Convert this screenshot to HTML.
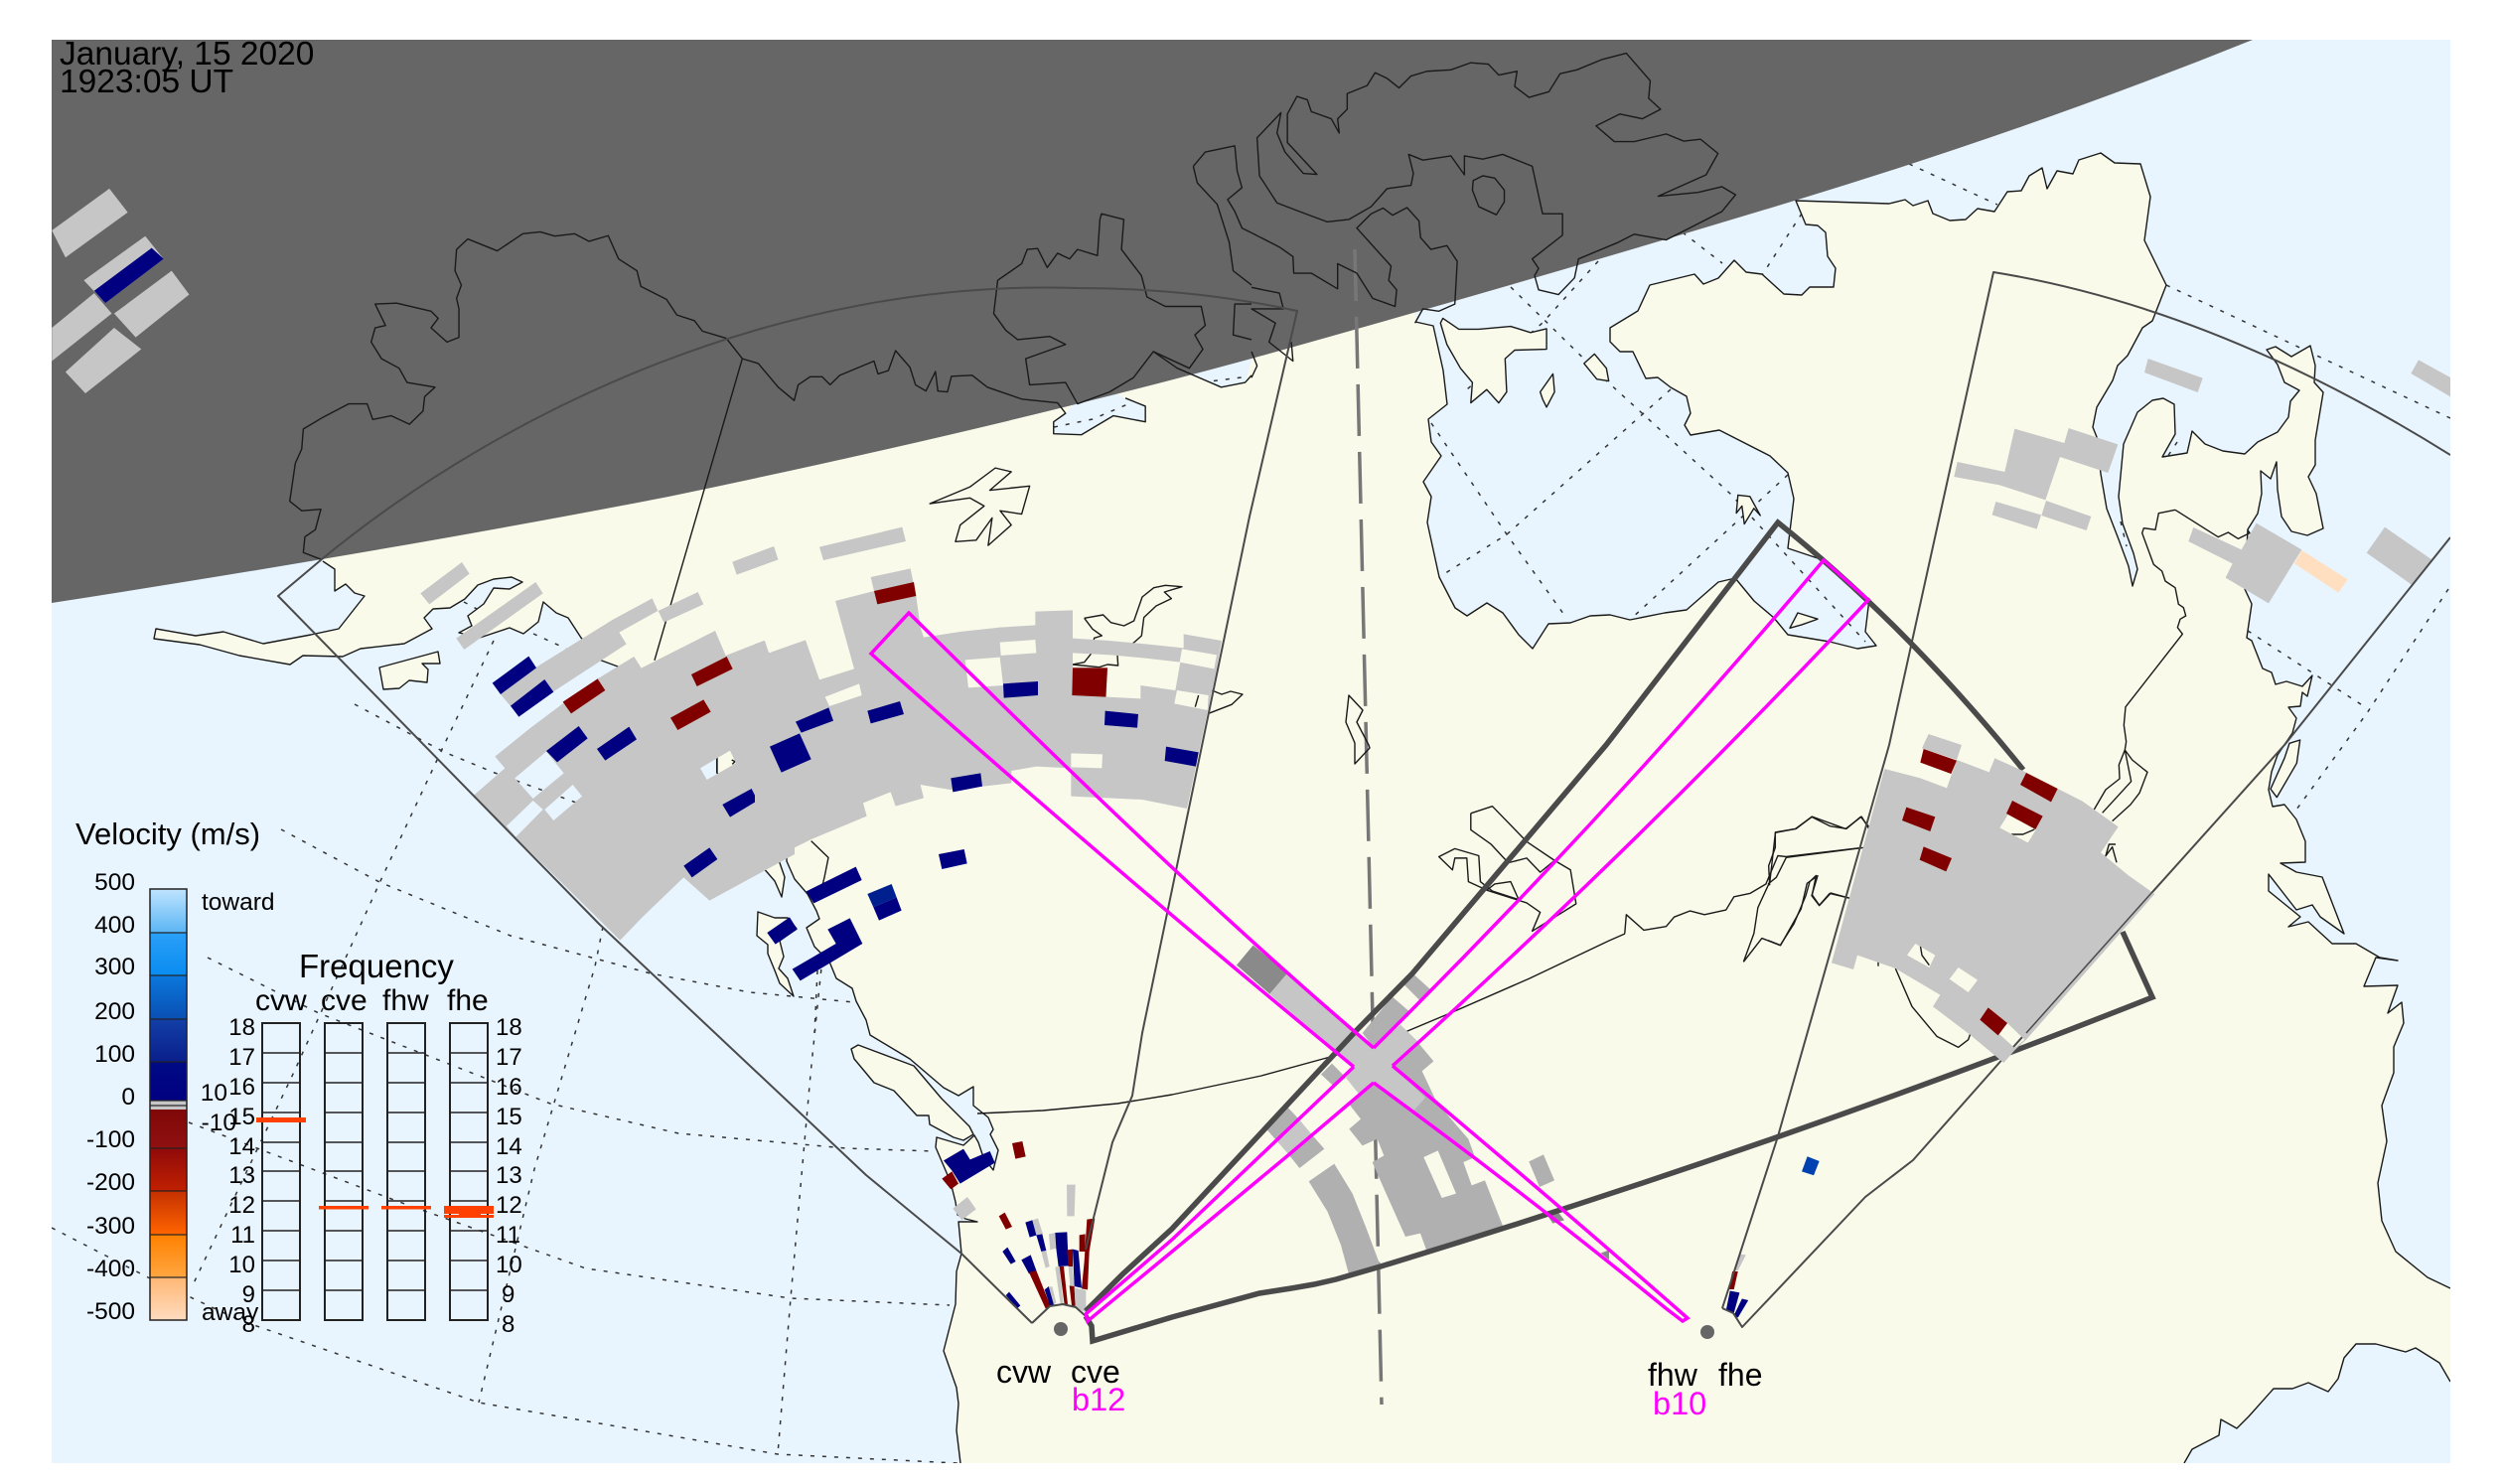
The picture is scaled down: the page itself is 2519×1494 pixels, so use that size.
<!DOCTYPE html>
<html><head><meta charset="utf-8"><title>SuperDARN</title>
<style>
html,body{margin:0;padding:0;background:#fff}
svg{display:block}
text{font-family:"Liberation Sans",sans-serif;fill:#000}
.c{fill:none;stroke:#1a1a1a;stroke-width:1.4;stroke-linejoin:round;vector-effect:non-scaling-stroke}
.i{fill:#f9faea;stroke:#1a1a1a;stroke-width:1.4;stroke-linejoin:round;vector-effect:non-scaling-stroke}
.g{fill:#c6c6c6}.d{fill:#b0b0b0}.r{fill:#800000}.n{fill:#000080}
.dot{fill:none;stroke:#333;stroke-width:1.5;stroke-dasharray:4 8}
.s{fill:none;stroke:#4a4a4a;stroke-width:2;stroke-linejoin:round}
.t{fill:none;stroke:#4a4a4a;stroke-width:5.5;stroke-linejoin:miter}
.m{fill:none;stroke:#ff00ff;stroke-width:3.5;stroke-linejoin:miter}
</style></head><body>
<svg xmlns="http://www.w3.org/2000/svg" width="2519" height="1494" viewBox="0 0 2519 1494">
<defs>
<clipPath id="plot"><rect x="52" y="40" width="2415" height="1433"/></clipPath>
<clipPath id="oc">
<path id="oW" d="M52,500 L325,500 325,565 337,573 337,595 348,588 357,597 367,600 341,633 313,639 265,648 225,636 197,640 157,633 155,643 201,649 241,660 292,669 305,660 345,661 363,653 407,648 435,633 427,622 436,613 453,612 468,603 481,589 497,583 515,581 526,586 513,593 497,592 487,608 471,620 475,630 462,637 483,642 513,632 527,638 542,626 547,606 560,617 572,622 585,642 603,664 622,671 680,720 722,763 722,778 767,860 767,872 780,887 787,903 790,883 783,863 792,855 792,867 800,885 813,900 822,917 825,925 812,934 820,953 835,968 842,985 858,995 862,1008 872,1027 876,1042 916,1066 950,1095 965,1103 980,1094 980,1113 995,1125 1000,1137 997,1142 1005,1158 1000,1178 990,1165 985,1150 981,1143 970,1153 943,1145 942,1155 957,1190 962,1210 964,1223 972,1227 984,1230 965,1230 968,1262 963,1280 962,1313 950,1360 963,1397 965,1413 963,1440 967,1473 52,1473Z"/>
<path id="oE" d="M1808,202 1902,205 1918,201 1926,207 1941,202 1946,215 1963,222 1979,221 1991,210 2008,213 2021,193 2035,192 2043,177 2056,169 2061,190 2071,172 2087,175 2093,161 2115,154 2129,164 2155,165 2165,198 2159,242 2181,287 2167,323 2157,330 2142,358 2132,368 2127,383 2111,410 2107,430 2111,440 2115,477 2121,512 2133,543 2143,570 2147,590 2152,573 2148,557 2137,527 2133,500 2138,447 2152,415 2167,403 2178,401 2189,407 2190,437 2177,460 2202,456 2207,434 2220,447 2238,454 2260,457 2273,445 2293,435 2304,420 2306,404 2315,393 2300,385 2293,367 2282,352 2291,349 2307,359 2326,348 2331,368 2330,385 2339,395 2331,443 2331,468 2324,480 2332,497 2339,532 2323,539 2307,535 2297,520 2293,493 2292,465 2286,482 2276,474 2277,497 2273,517 2263,533 2260,593 2267,608 2262,642 2267,645 2278,673 2287,677 2291,689 2302,686 2318,691 2328,680 2323,701 2318,697 2316,711 2304,712 2312,723 2308,738 2293,760 2287,777 2284,795 2288,812 2300,810 2312,825 2321,847 2321,868 2296,869 2312,878 2338,883 2360,940 2336,923 2328,911 2312,916 2284,880 2284,897 2316,923 2304,933 2324,928 2348,950 2372,950 2396,964 2414,967 2392,964 2380,993 2414,992 2404,1020 2418,1009 2420,1030 2410,1054 2410,1080 2398,1113 2403,1149 2394,1191 2398,1229 2412,1260 2444,1286 2467,1297 2467,40 1700,40 1425,300 1425,324 1443,328 1453,373 1457,407 1438,422 1441,445 1451,459 1433,485 1441,500 1437,526 1449,581 1465,612 1477,620 1497,607 1513,617 1529,639 1543,653 1559,628 1581,627 1601,620 1621,619 1641,624 1676,617 1698,614 1730,586 1747,582 1766,605 1786,622 1800,639 1842,646 1870,653 1889,650 1878,636 1882,603 1866,593 1836,564 1800,552 1806,502 1800,476 1782,459 1731,433 1702,438 1696,428 1702,416 1698,399 1682,390 1669,380 1657,381 1644,354 1631,354 1621,344 1621,330 1649,313 1661,287 1706,276 1715,286 1730,280 1746,262 1758,274 1774,276 1796,296 1814,297 1822,289 1846,289 1848,270 1840,258 1838,234 1830,227 1818,226Z"/>
<path d="M1083,405 1073,416 1061,425 1061,437 1089,438 1121,419 1153,425 1153,409 1133,401 1117,392Z M1185,370 1230,390 1254,385 1262,355Z"/>
</clipPath>
<linearGradient id="cb" gradientUnits="userSpaceOnUse" x1="0" y1="895" x2="0" y2="1329">
<stop offset="0" stop-color="#bfe4ff"/><stop offset=".1" stop-color="#5cb6f4"/><stop offset=".101" stop-color="#2aa0f8"/><stop offset=".2" stop-color="#0a8cf0"/><stop offset=".2" stop-color="#0b78dc"/><stop offset=".3" stop-color="#0a50b4"/><stop offset=".302" stop-color="#123fa6"/><stop offset=".4" stop-color="#0a1f8c"/><stop offset=".401" stop-color="#000a85"/><stop offset=".49" stop-color="#000080"/><stop offset=".491" stop-color="#c6c6c6"/><stop offset=".512" stop-color="#c6c6c6"/><stop offset=".512" stop-color="#800808"/><stop offset=".6" stop-color="#901010"/><stop offset=".601" stop-color="#8f0a0a"/><stop offset=".7" stop-color="#c02000"/><stop offset=".7" stop-color="#c43000"/><stop offset=".8" stop-color="#ff6400"/><stop offset=".802" stop-color="#ff8000"/><stop offset=".9" stop-color="#ffa640"/><stop offset=".901" stop-color="#ffb774"/><stop offset="1" stop-color="#ffdcc0"/>
</linearGradient>
</defs>

<g clip-path="url(#plot)">
<rect x="52" y="40" width="2415" height="1433" fill="#f9faea"/>
<g fill="#e8f5ff">
<use href="#oW"/><use href="#oE"/>
<path d="M1083,405 1073,416 1061,425 1061,437 1089,438 1121,419 1153,425 1153,409 1133,401 1117,392Z M1185,370 1230,390 1254,385 1262,355Z"/>
<path d="M2467,1391 2456,1372 2432,1357 2422,1361 2392,1353 2372,1353 2360,1367 2354,1388 2344,1401 2324,1392 2308,1398 2289,1398 2264,1426 2252,1438 2236,1429 2234,1445 2207,1459 2199,1473 2467,1473Z"/>
</g>

<!-- graticule -->
<g clip-path="url(#oc)">
<polyline class="dot" points="283,835 382,888 514,942 655,980 755,999 860,1009"/>
<polyline class="dot" points="209,964 321,1020 554,1111 683,1141 852,1156 940,1159"/>
<polyline class="dot" points="190,1130 402,1210 590,1277 796,1307 956,1314"/>
<polyline class="dot" points="52,1236 149,1286 241,1329 482,1412 783,1464 964,1473"/>
<polyline class="dot" points="497,645 448,748 383,887 297,1077 193,1296"/>
<polyline class="dot" points="607,933 599,973 538,1177 482,1412"/>
<polyline class="dot" points="828,964 816,1082 796,1307 783,1464"/>
<polyline class="dot" points="823,977 820,1040"/>
<polyline class="dot" points="357,709 447,757 498,778 580,808"/>
<polyline class="dot" points="537,638 570,653"/><polyline class="dot" points="467,606 480,613"/>
<polyline class="dot" points="1521,289 1617,383 1742,497 1878,646"/>
<polyline class="dot" points="1682,392 1517,538 1449,581"/>
<polyline class="dot" points="1609,263 1553,325 1477,392"/>
<polyline class="dot" points="1441,426 1517,538 1577,622"/>
<polyline class="dot" points="1800,478 1641,624"/>
<polyline class="dot" points="1694,234 1734,265"/><polyline class="dot" points="1814,215 1774,277"/>
<polyline class="dot" points="1922,165 2011,206"/>
<polyline class="dot" points="2181,287 2467,421"/>
<polyline class="dot" points="2263,635 2383,713"/>
<polyline class="dot" points="2465,593 2383,718 2312,815"/>
<polyline class="dot" points="2192,445 2182,460"/><polyline class="dot" points="2135,525 2141,550"/>
<polyline class="dot" points="1061,430 1100,422 1140,405"/>
<polyline class="dot" points="1210,385 1250,380"/>
</g>

<!-- land islands in ocean -->
<polygon class="i" points="382,672 441,656 443,668 425,668 431,674 430,687 412,685 402,693 386,694"/>
<polygon class="i" points="857,1056 864,1052 920,1073 948,1106 976,1134 980,1142 970,1148 960,1145 936,1132 935,1123 923,1123 900,1098 880,1090 860,1066"/>
<polygon class="i" points="763,918 780,924 793,924 802,935 785,947 789,963 784,975 793,985 799,1003 785,990 780,977 773,960 773,951 762,942"/>
<g transform="translate(1260,0) scale(.8029,.4783)">
<polygon class="i" points="237,680 245,725 262,775 277,805 275,848 295,820 310,848 320,825 318,755 330,737 370,735 370,692 350,700 325,687 285,693 260,693 240,670"/>
<polygon class="i" points="417,765 430,745 445,775 448,802 433,798"/>
<polygon class="i" points="362,825 378,787 380,825 370,857 365,840"/>
<polygon class="i" points="675,1322 685,1290 710,1303 690,1315"/>
<polygon class="i" points="610,1042 625,1045 638,1085 630,1070 618,1103 615,1065 608,1080"/>
</g>
<g transform="translate(1950,330) scale(.33333)">
<polygon class="i" points="1065,1255 1097,1245 1087,1315 1027,1418 1008,1393 1050,1300"/>
</g>

<!-- night -->
<path d="M52,40 L2268,40 Q2050,128 1810,201 Q1550,280 1260,361 Q1000,432 673,500 Q400,553 52,607Z" fill="#666"/>

<!-- dashed meridian -->
<line x1="1364" y1="251" x2="1391" y2="1414" stroke="#777" stroke-width="3.5" stroke-dasharray="52 16"/>

<!-- coastlines -->
<polyline class="c" points="325,565 337,573 337,595 348,588 357,597 367,600 341,633 313,639 265,648 225,636 197,640 157,633 155,643 201,649 241,660 292,669 305,660 345,661 363,653 407,648 435,633 427,622 436,613 453,612 468,603 481,589 497,583 515,581 526,586 513,593 497,592 487,608 471,620 475,630 462,637 483,642 513,632 527,638 542,626 547,606 560,617 572,622 585,642 603,664 622,671 680,720 722,763 722,778 767,860 767,872 780,887 787,903 790,883 783,863 792,855 792,867 800,885 813,900 822,917 825,925 812,934 820,953 835,968 842,985 858,995 862,1008 872,1027 876,1042 916,1066 950,1095 965,1103 980,1094 980,1113 995,1125 1000,1137 997,1142 1005,1158 1000,1178 990,1165 985,1150 981,1143 970,1153 943,1145 942,1155 957,1190 962,1210 964,1223 972,1227 984,1230 965,1230 968,1262 963,1280 962,1313 950,1360 963,1397 965,1413 963,1440 967,1473"/>
<polyline class="c" points="1425,324 1443,328 1453,373 1457,407 1438,422 1441,445 1451,459 1433,485 1441,500 1437,526 1449,581 1465,612 1477,620 1497,607 1513,617 1529,639 1543,653 1559,628 1581,627 1601,620 1621,619 1641,624 1676,617 1698,614 1730,586 1747,582 1766,605 1786,622 1800,639 1842,646 1870,653 1889,650 1878,636 1882,603 1866,593 1836,564 1800,552 1806,502 1800,476 1782,459 1731,433 1702,438 1696,428 1702,416 1698,399 1682,390 1669,380 1657,381 1644,354 1631,354 1621,344 1621,330 1649,313 1661,287 1706,276 1715,286 1730,280 1746,262 1758,274 1774,276 1796,296 1814,297 1822,289 1846,289 1848,270 1840,258 1838,234 1830,227 1818,226 1808,202 1902,205 1918,201 1926,207 1941,202 1946,215 1963,222 1979,221 1991,210 2008,213 2021,193 2035,192 2043,177 2056,169 2061,190 2071,172 2087,175 2093,161 2115,154 2129,164 2155,165 2165,198 2159,242 2181,287 2167,323 2157,330 2142,358 2132,368 2127,383 2111,410 2107,430 2111,440 2115,477 2121,512 2133,543 2143,570 2147,590 2152,573 2148,557 2137,527 2133,500 2138,447 2152,415 2167,403 2178,401 2189,407 2190,437 2177,460 2202,456 2207,434 2220,447 2238,454 2260,457 2273,445 2293,435 2304,420 2306,404 2315,393 2300,385 2293,367 2282,352 2291,349 2307,359 2326,348 2331,368 2330,385 2339,395 2331,443 2331,468 2324,480 2332,497 2339,532 2323,539 2307,535 2297,520 2293,493 2292,465 2286,482 2276,474 2277,497 2273,517 2263,533 2260,593 2267,608 2262,642 2267,645 2278,673 2287,677 2291,689 2302,686 2318,691 2328,680 2323,701 2318,697 2316,711 2304,712 2312,723 2308,738 2293,760 2287,777 2284,795 2288,812 2300,810 2312,825 2321,847 2321,868 2296,869 2312,878 2338,883 2360,940 2336,923 2328,911 2312,916 2284,880 2284,897 2316,923 2304,933 2324,928 2348,950 2372,950 2396,964 2414,967 2392,964 2380,993 2414,992 2404,1020 2418,1009 2420,1030 2410,1054 2410,1080 2398,1113 2403,1149 2394,1191 2398,1229 2412,1260 2444,1286 2467,1297"/>
<polyline class="c" points="2467,1391 2456,1372 2432,1357 2422,1361 2392,1353 2372,1353 2360,1367 2354,1388 2344,1401 2324,1392 2308,1398 2289,1398 2264,1426 2252,1438 2236,1429 2234,1445 2207,1459 2199,1473"/>
<polyline class="c" points="984,1121 1050,1118 1125,1111 1180,1102 1270,1083 1343,1063 1417,1038 1460,1020 1540,985 1620,947 1636,940"/>
<polygon class="c" points="1358,700 1372,715 1366,727 1378,750 1379,753 1364,769 1364,748 1355,727"/>

<g transform="scale(.8036,.4783)">
<polyline class="c" points="403,1178 380,1163 382,1130 395,1115 402,1072 378,1075 363,1055 370,975 378,945 380,903 405,878 437,850 460,850 467,883 490,875 513,893 530,865 532,835 545,815 510,805 500,775 478,755 465,720 470,690 483,685 470,640 497,638 540,655 549,670 540,690 560,720 575,710 575,650 572,628 578,600 570,570 572,525 586,503 623,528 655,492 677,488 695,497 720,492 738,508 762,496 775,545 798,570 803,603 835,630 848,663 870,675 880,697 910,712 930,755 950,765 975,815 995,843 1000,810 1015,793 1030,793 1040,810 1052,790 1095,760 1100,787 1113,780 1122,738 1140,773 1147,810 1160,823 1172,782 1175,823 1187,825 1192,792 1218,790 1237,815 1280,840 1325,848 1335,870 1320,888 1320,913 1355,915 1395,875 1435,888 1435,855 1410,838"/>
<polygon class="c" points="1380,450 1408,462 1405,525 1430,580 1437,625 1460,645 1505,645 1510,685 1497,705 1507,735 1490,775 1445,740 1420,795 1390,825 1350,850 1335,805 1290,810 1285,755 1335,725 1315,708 1275,715 1260,695 1245,660 1250,590 1280,555 1287,525 1300,523 1312,563 1325,533 1340,545 1350,525 1375,538 1378,462"/>
<polyline class="c" points="1445,740 1475,775 1530,815 1560,805 1568,790"/>
<polyline class="c" points="1495,350 1510,320 1547,307 1550,360 1556,395 1538,420 1547,445 1556,480 1568,490"/>
<polyline class="c" points="1495,350 1500,385 1525,430 1540,510 1545,570 1568,600"/>
<polyline class="c" points="1568,640 1547,640 1545,705 1568,715"/>
<polygon class="c" points="1165,1060 1215,1025 1247,985 1267,993 1240,1032 1290,1023 1280,1082 1253,1075 1267,1105 1238,1148 1243,1090 1223,1137 1197,1140 1203,1105 1233,1065 1215,1048"/>
<polyline class="c" points="930,755 820,1390"/>
</g>

<g transform="translate(1260,0) scale(.8029,.4783)">
<polygon class="c" points="470,112 500,170 498,207 513,230 490,250 462,240 432,265 455,298 480,298 520,282 542,297 563,293 585,323 570,368 510,413 560,405 590,393 607,410 590,445 555,475 520,505 480,493 460,510 410,545 405,585 385,620 360,610 355,580 360,565 352,545 390,495 390,450 365,450 352,350 315,325 290,335 267,328 267,368 250,328 215,337 197,325 203,365 200,390 170,397 150,435 122,462 95,467 60,445 32,427 10,370 7,290 37,237 32,280 42,320 65,365 82,367 45,300 45,240 57,203 70,210 75,235 100,250 110,280 108,250 120,230 120,197 145,180 155,153 170,165 185,185 200,160 220,150 250,147 275,132 297,135 310,158 333,150 330,182 348,205 373,193 387,155 408,147 440,125"/>
<polygon class="c" points="278,380 290,370 305,375 317,400 317,425 307,452 285,435 277,400"/>
<polyline class="c" points="205,680 215,650 235,655 255,640 258,550 245,517 225,525 212,500 210,465 195,437 177,453 165,438 150,450 132,480 175,560 172,590 182,610 180,645 152,628 132,575 108,555 108,608 75,575 53,575 52,540 35,520 0,490"/>
<polyline class="c" points="0,605 35,617 40,650 0,650 30,680 22,720 52,760 50,720"/>
<polyline class="c" points="0,740 7,770 0,795"/>
</g>

<g transform="translate(1260,750) scale(.8029,.4745)">
<polyline class="c" points="468,400 470,360 492,393 520,385 530,365 550,352 568,360 595,350 605,322 625,315 645,295 660,235 670,237 765,218"/>
<polyline class="c" points="617,460 630,400 635,345 650,290 657,185 682,178 703,152 745,178 765,152 775,180"/>
<polyline class="c" points="617,460 640,410 663,425 680,380 695,320 700,290 708,277 703,318 712,340 725,315 750,325"/>
<polyline class="c" points="275,145 302,130 345,205 380,245 400,265 407,337 352,395 362,355 345,335 295,308 305,295 325,290 335,328 302,310 287,290 285,235 255,220 235,237 252,265 255,240 270,240 272,290 295,308"/>
<polyline class="c" points="275,145 275,180 300,210 322,250 345,240 362,270 380,245"/>
</g>

<g transform="translate(760,520) scale(.33333)">
<polyline class="c" points="995,307 1052,297 1075,320 1115,330 1145,315 1170,243 1205,215 1240,208 1290,212 1237,228 1258,248 1212,270 1175,305 1168,360 1148,378 1095,420 1097,450 1065,447 1040,455 960,447 995,440 1015,415 1025,367 1048,360 1020,340 995,307"/>
<polyline class="c" points="1340,540 1330,575"/>
<polyline class="c" points="1380,525 1410,537 1437,528 1473,537 1440,568 1370,595"/>
<polyline class="c" points="170,980 222,1030 210,1090 205,1110"/>
</g>
<g transform="translate(1950,330) scale(.33333)">
<polyline class="c" points="720,550 670,560 660,610 625,605 620,620 655,715 680,735 690,765 720,785 730,835 745,845 752,870 735,880 727,905 742,925 570,1145 565,1200 572,1250 568,1275"/>
<polyline class="c" points="720,550 850,632 880,618 910,637 945,620 938,610"/>
<polyline class="c" points="568,1275 550,1320 552,1362 510,1395 475,1455"/>
<polyline class="c" points="568,1275 587,1370 500,1465"/>
<polyline class="c" points="568,1275 590,1305 636,1342 612,1405 585,1440 530,1490"/>
</g>
<g transform="translate(1780,700) scale(.33333)">
<polyline class="c" points="0,570 5,572 2,515 22,460 22,415 85,403 132,367 187,395 237,403 280,367 305,397"/>
<polyline class="c" points="0,570 25,550 55,490 290,460"/>
<polyline class="c" points="0,740 38,755 100,645 118,568 150,545 132,605 155,635 190,597 247,613"/>
<polyline class="c" points="385,825 435,940 510,1030 575,1063 605,1040 612,1020"/>
<polyline class="c" points="460,755 465,785 487,815"/>
<polyline class="c" points="735,420 770,420 805,405"/>
<polyline class="c" points="1050,450 1030,450 1020,485 1040,458 1053,505"/>
<polyline class="c" points="333,800 333,818"/>
</g>
<g transform="translate(280,500) scale(.33333)">
<polyline class="c" points="1325,790 1325,835"/>
<polyline class="c" points="1370,795 1380,800 1372,808"/>
</g>

<!-- data: top-left in night -->
<g transform="scale(.8036,.4783)">
<polygon class="g" points="65,485 137,397 160,447 82,542"/>
<polygon class="g" points="105,590 182,497 205,545 132,638"/>
<polygon class="n" points="118,612 190,522 205,545 132,638"/>
<polygon class="g" points="143,660 215,570 237,620 170,710"/>
<polygon class="g" points="65,690 118,617 140,660 65,760"/>
<polygon class="g" points="82,783 143,690 177,735 107,828"/>
</g>

<!-- data: cvw main -->
<g transform="translate(280,500) scale(.33333)">
<polygon class="g" points="430,292 555,198 578,233 457,325"/>
<polygon class="g" points="538,428 778,258 800,292 562,462"/>
<polygon class="g" points="1372,197 1497,150 1510,190 1385,236"/>
<polygon class="g" points="672,597 780,515 1010,372 1130,307 1147,345 1030,410 1052,445 830,590 725,660"/>
<polygon class="g" points="1148,345 1268,288 1285,325 1165,380"/>
<path class="g" fill-rule="evenodd" d="M590,903 L685,820 655,785 760,700 860,625 965,550 1075,483 1097,518 1320,405 1352,480 1467,435 1483,473 1560,445 1560,1080 1303,1220 1225,1150 1100,1270 1033,1340Z M715,850 810,770 863,835 770,912Z M690,995 770,918 800,945 718,1028Z M805,945 890,870 918,905 832,978Z M1275,820 1365,767 1383,805 1295,855Z"/>
<polygon class="n" points="647,563 757,482 780,517 672,597"/>
<polygon class="n" points="702,632 805,552 832,590 727,665"/>
<polygon class="n" points="810,768 908,693 935,730 843,802"/>
<polygon class="n" points="963,762 1060,695 1083,733 988,797"/>
<polygon class="n" points="1342,930 1430,882 1448,918 1365,968"/>
<polygon class="n" points="1225,1115 1303,1060 1327,1095 1250,1150"/>
<polygon class="r" points="860,620 965,550 988,585 885,655"/>
<polygon class="r" points="1248,537 1355,483 1373,520 1265,573"/>
<polygon class="r" points="1185,668 1285,613 1307,650 1207,705"/>
</g>
<g transform="translate(760,520) scale(.33333)">
<polygon class="g" points="195,92 445,32 456,75 207,132"/>
<polygon class="g" points="0,120 58,92 70,130 0,155"/>
<path class="g" fill-rule="evenodd" d="M0,385 30,375 42,412 153,373 195,493 300,460 243,255 360,225 350,183 470,157 487,240 500,335 510,365 620,348 740,335 847,328 847,287 960,283 960,368 1070,375 1180,385 1295,397 1295,355 1410,375 1395,460 1305,882 1170,855 955,845 955,760 850,755 775,768 775,805 690,815 590,825 500,810 510,850 425,875 410,832 327,865 338,905 170,975 0,1060Z M212,545 315,505 323,540 225,573Z M740,380 847,372 850,412 743,420Z M635,433 740,425 750,510 645,517Z M960,412 1075,418 1180,428 1285,440 1270,525 1165,510 1165,550 1062,545 1065,457 960,455Z M1290,400 1395,418 1387,460 1283,440Z M1275,525 1370,540 1367,585 1267,565Z M955,715 1050,718 1048,760 955,757Z"/>
<polygon class="n" points="45,695 135,655 170,733 80,773"/>
<polygon class="n" points="123,620 223,577 237,617 140,653"/>
<polygon class="n" points="340,587 438,558 450,597 350,625"/>
<polygon class="n" points="750,505 855,498 855,540 752,548"/>
<polygon class="n" points="1058,587 1158,597 1155,638 1056,630"/>
<polygon class="n" points="1242,695 1340,712 1332,755 1238,738"/>
<polygon class="n" points="592,790 682,775 687,815 598,832"/>
<polygon class="n" points="555,1020 632,1005 641,1048 565,1065"/>
<polygon class="n" points="155,1132 305,1058 323,1098 178,1168"/>
<polygon points="340,1140 413,1110 428,1150 358,1180" fill="#002090"/>
<polygon class="n" points="358,1180 428,1150 443,1190 375,1220"/>
<polygon class="n" points="37,1257 105,1210 128,1247 62,1292"/>
<polygon class="n" points="220,1247 287,1213 325,1290 137,1402 113,1367 245,1290"/>
<polygon class="r" points="360,225 480,198 487,240 370,265"/>
<polygon class="r" points="960,457 1065,457 1060,545 958,540"/>
</g>

<!-- data near cvw/cve -->
<g transform="translate(900,1080) scale(.33333)">
<polygon class="n" points="150,265 210,230 230,262 290,237 305,272 200,335 175,295"/>
<polygon class="r" points="145,320 175,298 195,335 172,352"/>
<polygon class="r" points="357,213 388,207 398,253 367,260"/>
<polygon class="g" points="178,410 222,375 248,412 205,445"/>
<polygon class="r" points="317,433 335,422 357,465 338,473"/>
<polygon class="g" points="522,338 548,338 545,433 523,433"/>
<polygon class="n" points="397,452 418,445 432,490 410,497"/>
<polygon class="g" points="418,445 435,440 450,487 430,490"/>
<polygon class="n" points="430,490 448,487 460,537 445,540"/>
<polygon class="g" points="445,540 460,537 470,585 458,590"/>
<polygon class="n" points="328,540 343,527 368,570 353,578"/>
<polygon class="n" points="385,565 413,550 430,597 408,607"/>
<polygon class="r" points="408,603 430,597 473,705 458,712"/>
<polygon class="n" points="455,655 468,645 483,700 472,705"/>
<polygon class="g" points="468,648 478,645 490,695 483,700"/>
<polygon class="n" points="338,672 348,662 382,703 372,712"/>
<polygon class="g" points="468,487 488,483 490,530 472,535"/>
<polygon class="n" points="487,483 523,481 525,530 527,583 497,585 490,530"/>
<polygon class="g" points="487,587 500,585 512,700 503,700"/>
<polygon class="r" points="500,585 513,585 525,700 515,700"/>
<polygon class="r" points="523,535 540,533 540,585 527,585"/>
<polygon class="n" points="540,533 557,537 567,650 545,645"/>
<polygon class="g" points="527,585 540,585 545,645 532,643"/>
<polygon class="r" points="530,643 545,645 548,705 537,703"/>
<polygon class="g" points="545,650 580,657 580,725 548,708"/>
<polygon class="r" points="560,490 578,487 578,540 560,540"/>
<polygon class="r" points="583,443 607,440 590,540 585,655 567,652 575,570"/>
</g>

<!-- data middle -->
<g transform="translate(1180,920) scale(.33333)">
<polygon class="d" points="700,213 725,178 782,230 752,265"/>
<polygon class="d" points="575,360 665,250 717,295 610,405"/>
<path class="d" fill-rule="evenodd" d="M740,385 790,445 755,475 800,570 895,680 915,735 880,750 905,820 945,805 1000,945 770,1020 750,965 705,975 640,830 605,750 640,730 620,680 575,700 535,650 570,620 535,575 570,540 610,510Z M760,735 803,715 858,845 815,858Z"/>
<polygon class="d" points="450,485 483,452 525,495 490,522"/>
<polygon class="d" points="285,650 350,585 385,622 320,690"/>
<polygon class="d" points="355,730 425,670 460,710 385,768"/>
<polygon class="d" points="413,808 490,755 545,845 585,945 628,1060 535,1092 510,1000 470,900"/>
<polygon class="d" points="1078,748 1122,727 1155,805 1110,825"/>
<polygon points="195,155 245,95 348,180 295,242" fill="#8a8a8a"/>
<polygon class="g" points="295,242 348,180 608,405 690,335 742,385 665,458 765,555 728,597 608,510 565,545 525,495 548,462"/>
<polygon class="g" points="320,690 385,622 425,670 355,730"/>
<polygon points="1130,905 1160,893 1185,925 1150,935" fill="#8a8a8a"/>
<polygon points="1295,1025 1320,1015 1320,1045" fill="#8a8a8a"/>
</g>

<!-- data right -->
<g transform="translate(1950,330) scale(.33333)">
<polygon class="g" points="638,93 803,152 788,195 627,135"/>
<polygon class="g" points="235,305 385,348 398,303 547,352 517,438 372,390 328,520 190,475 52,450 62,405 205,435"/>
<polygon class="g" points="178,525 315,565 302,608 167,565"/>
<polygon class="g" points="330,522 466,570 452,612 316,567"/>
<polygon class="g" points="775,603 920,670 965,590 1102,670 1002,832 872,755 893,712 760,645"/>
<polygon points="1102,672 1241,760 1213,800 1080,712" fill="#ffdfc0"/>
<polygon class="g" points="1353,602 1495,700 1437,778 1298,680"/>
<polygon class="g" points="1455,97 1551,150 1551,208 1432,138"/>
</g>
<g transform="translate(1260,750) scale(.8029,.4745)">
<polygon points="697,873 712,883 705,913 690,905" fill="#0040b0"/>
<polygon class="g" points="612,1080 620,1082 610,1115 605,1115"/>
<polygon class="r" points="603,1117 610,1117 605,1155 598,1155"/>
<polygon class="n" points="600,1158 612,1162 605,1205 595,1200"/>
<polygon class="n" points="615,1175 623,1178 610,1215 605,1210"/>
</g>

<!-- sector outlines -->
<path class="s" d="M1039,1332 L968,1262 872,1183 603,930 280,600 324,563 C510,410 790,280 1085,290 Q1200,290 1306,313 L1258,520 1150,1040 1140,1103 1120,1150 1100,1230 1093,1258"/>
<polyline class="s" points="1039,1332 1057,1315 1070,1313 1083,1316 1093,1325"/>
<path class="s" d="M1734,1317 L1790,1144 1902,750 2007,274 Q2230,310 2467,458"/>
<polyline class="s" points="2467,541 2300,750 2019,1063 1926,1168 1878,1205 1754,1336 1745,1322 1734,1317"/>
<path class="t" d="M1093,1325 L1099,1335 1100,1350 1180,1326 1268,1302 1300,1297 1323,1293 1345,1288 1390,1275 Q1800,1150 2167,1004 L2137,938"/>
<path class="t" d="M2037,775 Q1920,630 1790,526 L1746,583 1617,750 1422,980 1365,1038 1180,1237 1130,1283 1093,1320"/>

<!-- re-lay right data over thick sector -->
<g transform="translate(1780,700) scale(.33333)">
<polygon class="g" points="485,117 585,150 570,195 465,160"/>
<path class="g" fill-rule="evenodd" d="M352,222 460,250 540,280 570,195 668,232 685,190 770,228 875,282 950,320 1058,397 1005,475 1090,545 1168,600 780,1040 745,1072 712,1110 610,1025 498,940 520,905 385,825 270,785 258,828 192,808Z M700,400 725,360 810,405 785,445Z M420,785 445,750 505,785 487,822Z M548,857 575,822 633,860 605,897Z M695,1020 723,990 775,1040 745,1065Z"/>
<polygon class="r" points="470,162 570,197 553,237 460,203"/>
<polygon class="r" points="418,338 505,367 490,411 405,378"/>
<polygon class="r" points="470,457 555,492 538,532 458,497"/>
<polygon class="r" points="780,234 875,282 855,322 762,270"/>
<polygon class="r" points="738,318 830,365 808,405 720,357"/>
<polygon class="r" points="665,943 723,990 695,1027 640,980"/>
</g>
<polyline class="s" style="stroke-width:1.5" points="2175,889 2040,1040"/>

<!-- beams -->
<path class="m" d="M1383,1055 C1230,925 1080,780 915,617 L877,658 C1030,795 1200,940 1363,1074"/>
<path class="m" d="M1402,1073 Q1560,1205 1699,1327 L1694,1330 1677,1317 Q1540,1205 1383,1090"/>
<path class="m" d="M1383,1055 Q1620,820 1836,564 L1881,604 Q1650,850 1402,1073"/>
<path class="m" d="M1363,1074 L1180,1248 1093,1323 1095,1330 1180,1260 1297,1163 1383,1090"/>

<!-- radar sites -->
<circle cx="1068" cy="1338" r="7" fill="#666"/>
<circle cx="1719" cy="1341" r="7" fill="#666"/>
</g>

<!-- titles -->
<text x="60" y="65" font-size="33.5">January, 15 2020</text>
<text x="60" y="93" font-size="33.5">1923:05 UT</text>

<!-- legend -->
<text x="76" y="850" font-size="31">Velocity (m/s)</text>
<rect x="151" y="895" width="37" height="434" fill="url(#cb)" stroke="#222" stroke-width="1.5"/>
<g stroke="#222" stroke-width="1.5" opacity=".8">
<line x1="151" x2="188" y1="939" y2="939"/><line x1="151" x2="188" y1="982" y2="982"/><line x1="151" x2="188" y1="1026" y2="1026"/><line x1="151" x2="188" y1="1069" y2="1069"/><line x1="151" x2="188" y1="1108" y2="1108"/><line x1="151" x2="188" y1="1113" y2="1113"/><line x1="151" x2="188" y1="1156" y2="1156"/><line x1="151" x2="188" y1="1199" y2="1199"/><line x1="151" x2="188" y1="1243" y2="1243"/><line x1="151" x2="188" y1="1286" y2="1286"/>
</g>
<g font-size="24.5" text-anchor="end">
<text x="136" y="896">500</text><text x="136" y="939">400</text><text x="136" y="981">300</text><text x="136" y="1026">200</text><text x="136" y="1069">100</text><text x="136" y="1112">0</text><text x="136" y="1155">-100</text><text x="136" y="1198">-200</text><text x="136" y="1242">-300</text><text x="136" y="1285">-400</text><text x="136" y="1328">-500</text>
<text x="229" y="1108">10</text><text x="238" y="1138">-10</text>
</g>
<text x="203" y="916" font-size="24.5">toward</text>
<text x="203" y="1329" font-size="24.5">away</text>
<text x="301" y="984" font-size="33">Frequency</text>
<g font-size="30">
<text x="257" y="1017">cvw</text><text x="323" y="1017">cve</text><text x="385" y="1017">fhw</text><text x="450" y="1017">fhe</text>
</g>
<g fill="none" stroke="#222" stroke-width="2">
<rect x="264" y="1030" width="38" height="299"/>
<rect x="327" y="1030" width="38" height="299"/>
<rect x="390" y="1030" width="38" height="299"/>
<rect x="453" y="1030" width="38" height="299"/>
</g>
<path stroke="#222" stroke-width="1.6" fill="none" d="M264,1060H302M327,1060H365M390,1060H428M453,1060H491M264,1090H302M327,1090H365M390,1090H428M453,1090H491M264,1120H302M327,1120H365M390,1120H428M453,1120H491M264,1150H302M327,1150H365M390,1150H428M453,1150H491M264,1179H302M327,1179H365M390,1179H428M453,1179H491M264,1209H302M327,1209H365M390,1209H428M453,1209H491M264,1239H302M327,1239H365M390,1239H428M453,1239H491M264,1269H302M327,1269H365M390,1269H428M453,1269H491M264,1299H302M327,1299H365M390,1299H428M453,1299H491"/>
<g font-size="24" text-anchor="end">
<text x="257" y="1042">18</text><text x="257" y="1072">17</text><text x="257" y="1102">16</text><text x="257" y="1132">15</text><text x="257" y="1162">14</text><text x="257" y="1191">13</text><text x="257" y="1221">12</text><text x="257" y="1251">11</text><text x="257" y="1281">10</text><text x="257" y="1311">9</text><text x="257" y="1341">8</text>
</g>
<g font-size="24">
<text x="499" y="1042">18</text><text x="499" y="1072">17</text><text x="499" y="1102">16</text><text x="499" y="1132">15</text><text x="499" y="1162">14</text><text x="499" y="1191">13</text><text x="499" y="1221">12</text><text x="499" y="1251">11</text><text x="499" y="1281">10</text><text x="505" y="1311">9</text><text x="505" y="1341">8</text>
</g>
<g fill="#ff4000">
<rect x="258" y="1125" width="50" height="5"/>
<rect x="321" y="1214" width="50" height="3.5"/>
<rect x="384" y="1214" width="50" height="3.5"/>
<rect x="447" y="1214" width="50" height="8"/>
<rect x="447" y="1223" width="50" height="3"/>
<rect x="462" y="1220" width="22" height="6"/>
</g>

<!-- site labels -->
<text x="1003" y="1392" font-size="32">cvw</text>
<text x="1078" y="1392" font-size="32">cve</text>
<text x="1079" y="1420" font-size="32.5" style="fill:#ff00ff">b12</text>
<text x="1659" y="1395" font-size="32">fhw</text>
<text x="1730" y="1395" font-size="32">fhe</text>
<text x="1664" y="1424" font-size="32.5" style="fill:#ff00ff">b10</text>
</svg>
</body></html>
